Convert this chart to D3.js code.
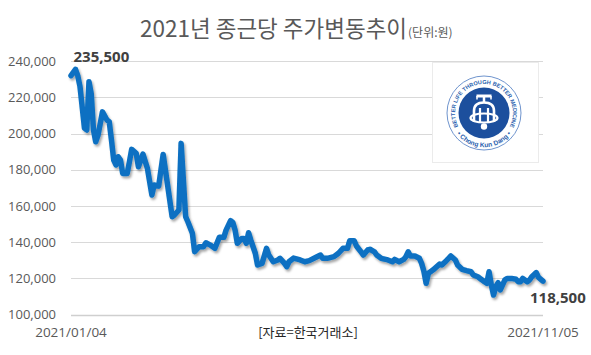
<!DOCTYPE html>
<html><head><meta charset="utf-8">
<script src="https://cdn.jsdelivr.net/npm/d3@7"></script>
<style>html,body{margin:0;padding:0;background:#fff;}svg{display:block;}</style>
</head><body>
<svg id="c" width="591" height="355"></svg>
<script>
const titleMain = "2021년 종근당 주가변동추이";
const titleUnit = "(단위:원)";
const sourceText = "[자료=한국거래소]";
const xLabels = ["2021/01/04", "2021/11/05"];
const yTicks = [100000,120000,140000,160000,180000,200000,220000,240000];
// trading-day index (0 = 2021/01/04, 210 = 2021/11/05)
const days = [0,2,3,4,6,7,8,9,10,11,12,14,16,17,18,19,20,21,22,23,25,26,27,29,30,32,34,36,37,39,41,42,45,46,48,49,51,52,54,55,57,59,60,62,64,66,68,69,71,72,73,74,76,77,78,79,80,82,83,85,87,88,90,92,93,95,96,97,99,102,104,106,109,111,112,114,117,119,121,123,124,126,127,129,130,132,133,135,136,138,140,141,143,144,146,148,149,150,151,153,155,156,157,158,159,161,163,164,165,167,168,169,171,172,174,176,178,179,181,182,184,185,186,187,188,189,190,191,193,194,196,198,199,200,201,203,204,205,207,208,210];
const prices = [232000,235500,232000,226000,203000,202000,228700,222000,202000,195500,199000,212000,207500,206600,196500,185400,182700,187200,185400,178000,178000,184500,191300,189100,181700,188700,180800,166100,171600,171000,188500,180000,154100,155000,157800,194600,154100,151300,145000,134700,137500,137500,139700,138400,136600,142700,142700,146700,151900,150800,146700,139400,142100,142100,139400,145200,141200,133900,127400,128300,136600,132900,129200,130200,131100,128300,126500,129200,131200,130200,129200,129800,131700,132900,131100,131100,132000,133900,136600,136600,140800,140800,137900,134700,132900,135700,136100,134700,132900,131100,130500,130200,129200,130500,129200,130500,132000,134700,132400,132400,131100,128300,124000,117300,122800,124600,126800,127900,127400,129800,131100,132400,130200,127400,125000,124300,123700,121900,120900,120000,118200,117300,123700,116400,110800,115400,117600,113600,119100,120000,120000,119500,118200,118200,120000,118200,119100,120900,123200,120600,118500];
const maxLabel = "235,500";
const lastLabel = "118,500";
const logoTop = "BETTER LIFE THROUGH BETTER MEDICINE";
const logoBottom = "• Chong Kun Dang •";

const svg = d3.select("#c");
const x = d3.scaleLinear().domain([0, 210]).range([71, 543]);
const y = d3.scaleLinear().domain([100000, 240000]).range([314.6, 61.2]);
const fmt = d3.format(",");

const defs = svg.append("defs");
const f = defs.append("filter").attr("id","sh").attr("x","-10%").attr("y","-10%").attr("width","120%").attr("height","130%");
f.append("feDropShadow").attr("dx",1.5).attr("dy",2.2).attr("stdDeviation",1.3).attr("flood-color","#000").attr("flood-opacity",0.35);

// title
const t = svg.append("text").attr("x",140).attr("y",37).attr("fill","#595959")
  .style("font-family","'Noto Sans CJK KR','Noto Sans',sans-serif");
t.append("tspan").attr("font-size",22.5).text(titleMain);
t.append("tspan").attr("font-size",12).attr("dx",1).text(titleUnit);

// grid lines
svg.append("g").selectAll("line").data(yTicks).join("line")
  .attr("x1",x(0)).attr("x2",x(210))
  .attr("y1",d=>Math.round(y(d))+0.5).attr("y2",d=>Math.round(y(d))+0.5)
  .attr("stroke",d=>d===100000?"#cfcfcf":"#d9d9d9").attr("stroke-width",d=>d===100000?1.5:1);
// y labels
svg.append("g").selectAll("text").data(yTicks).join("text")
  .attr("x",56).attr("y",d=>y(d)).attr("dy","0.35em").attr("text-anchor","end")
  .attr("fill","#595959").attr("font-size",13)
  .style("font-family","'Open Sans','Noto Sans',sans-serif")
  .text(d=>fmt(d));

// logo
const cx = 484, cy = 113;
const lg = svg.append("g");
lg.append("rect").attr("x",432.5).attr("y",62.5).attr("width",106).attr("height",100)
  .attr("fill","#fff").attr("stroke","#ebebeb");
lg.append("circle").attr("cx",cx).attr("cy",cy).attr("r",37).attr("fill","#fff").attr("stroke","#4a78c0").attr("stroke-width",0.8);
lg.append("circle").attr("cx",cx).attr("cy",cy).attr("r",25.5).attr("fill","#1c4f9d");

function arcText(str, r, size, bottom){
  const g = lg.append("g").attr("fill","#2b5fae").attr("font-size",size).attr("font-weight","bold")
    .style("font-family","'Liberation Sans',Arial,sans-serif");
  const chars = Array.from(str);
  const nodes = chars.map(ch => ch === " " ? null : g.append("text").attr("text-anchor","middle").text(ch));
  const widths = nodes.map(n => n ? n.node().getComputedTextLength() : size*0.3);
  const total = d3.sum(widths);
  let s = 0;
  nodes.forEach((n,i) => {
    const mid = s + widths[i]/2; s += widths[i];
    if (!n) return;
    const th = bottom ? Math.PI + (total/2 - mid)/r : (mid - total/2)/r;
    const px = cx + r*Math.sin(th), py = cy - r*Math.cos(th);
    const rot = (bottom ? th - Math.PI : th) * 180/Math.PI;
    n.attr("transform",`translate(${px.toFixed(2)},${py.toFixed(2)}) rotate(${rot.toFixed(2)})`);
  });
}
arcText(logoTop, 29, 5.6, false);
arcText(logoBottom, 34.2, 6.6, true);

// symbol
const sg = lg.append("g").attr("fill","none").attr("stroke","#fff");
sg.append("path").attr("d",`M${cx-7.5},${cy-17} L${cx+7.5},${cy-17}`).attr("stroke-width",3);
sg.append("path").attr("d",`M${cx-7},${cy-17} L${cx-7},${cy-13.5} M${cx+7},${cy-17} L${cx+7},${cy-13.5}`).attr("stroke-width",1.5);
sg.append("path").attr("d",`M${cx},${cy-16} L${cx},${cy-10}`).attr("stroke-width",2.5);
sg.append("path").attr("d",`M${cx-10},${cy+9} L${cx-10},${cy-2} Q${cx-10},${cy-10.5} ${cx},${cy-10.5} Q${cx+10},${cy-10.5} ${cx+10},${cy-2} L${cx+10},${cy+9}`).attr("stroke-width",2.6);
sg.append("path").attr("d",`M${cx-4},${cy+9} L${cx-4},${cy-5} M${cx+4},${cy+9} L${cx+4},${cy-5}`).attr("stroke-width",2.2);
sg.append("ellipse").attr("cx",cx).attr("cy",cy+5).attr("rx",13.5).attr("ry",4.5).attr("stroke-width",2.2);
lg.append("circle").attr("cx",cx).attr("cy",cy+13.5).attr("r",3.2).attr("fill","#fff");

// line
const pts = days.map((d,i)=>[d, prices[i]]);
const line = d3.line().x(d=>x(d[0])).y(d=>y(d[1])).curve(d3.curveLinear);
svg.append("path").datum(pts).attr("d",line).attr("fill","none")
  .attr("stroke","#0a70c2").attr("stroke-width",5.5).attr("stroke-linejoin","round").attr("stroke-linecap","round")
  .attr("filter","url(#sh)");

// annotations
const iMax = prices.indexOf(d3.max(prices));
svg.append("text").attr("x",x(days[iMax]) - 2).attr("y",y(prices[iMax]) - 7)
  .attr("fill","#404040").attr("font-size",15).attr("font-weight","bold")
  .style("font-family","'Open Sans','Noto Sans',sans-serif").text(maxLabel);
const iL = prices.length-1;
svg.append("text").attr("x",x(days[iL]) - 13).attr("y",y(prices[iL]) + 22)
  .attr("fill","#404040").attr("font-size",15).attr("font-weight","bold")
  .style("font-family","'Open Sans','Noto Sans',sans-serif").text(lastLabel);

// x labels
const xl = svg.append("g").attr("fill","#595959").attr("font-size",13.5)
  .style("font-family","'Open Sans','Noto Sans',sans-serif");
xl.append("text").attr("x",x(0)).attr("y",337).attr("text-anchor","middle").text(xLabels[0]);
xl.append("text").attr("x",x(210)).attr("y",337).attr("text-anchor","middle").text(xLabels[1]);
svg.append("text").attr("x",308).attr("y",337).attr("text-anchor","middle").attr("fill","#262626")
  .attr("font-size",13).style("font-family","'Noto Sans CJK KR',sans-serif").text(sourceText);
</script>
</body></html>
